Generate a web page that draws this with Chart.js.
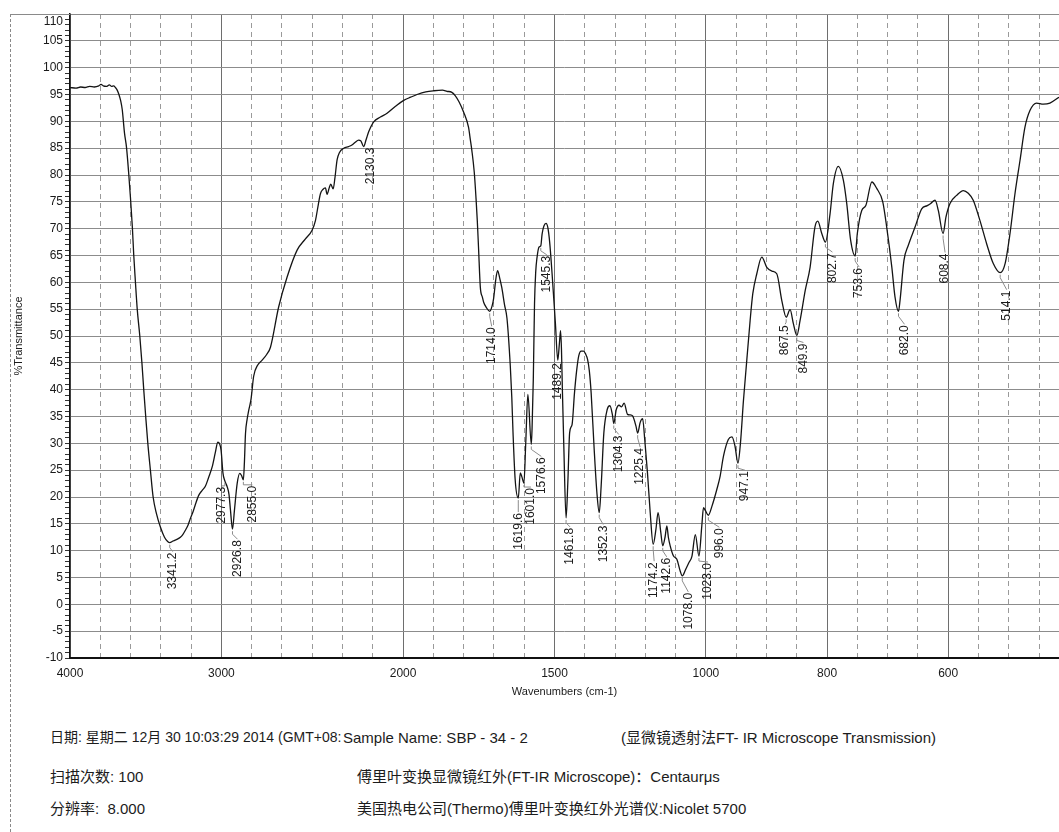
<!DOCTYPE html>
<html>
<head>
<meta charset="utf-8">
<title>FT-IR</title>
<script src="https://cdn.jsdelivr.net/npm/chart.js@4/dist/chart.umd.min.js"></script>
<style>
  html, body { margin: 0; padding: 0; background: #fff; }
  #page { position: relative; width: 1059px; height: 832px; overflow: hidden; background: #fff; }
  #spectrum { position: absolute; left: 0; top: 0; }
  .info { position: absolute; white-space: nowrap; line-height: 1;
          font-family: "Liberation Sans", Arial, "Noto Sans CJK SC", sans-serif;
          font-size: 15px; color: #1c1c1c; }
  .info.date { font-size: 14px; }
  #frameLeft { position: absolute; left: 10px; top: 14px; width: 0; height: 818px;
               border-left: 1px dashed #8a8a8a; }
</style>
</head>
<body>
<div id="page">
  <canvas id="spectrum" width="1059" height="720"></canvas>
  <div id="frameLeft"></div>
  <div class="info date" style="left:50px; top:730px;">日期: 星期二 12月 30 10:03:29 2014 (GMT+08:</div>
  <div class="info" style="left:343px; top:730px;">Sample Name: SBP - 34 - 2</div>
  <div class="info" style="left:621px; top:730px;">(显微镜透射法FT- IR Microscope Transmission)</div>
  <div class="info" style="left:50px; top:769px;">扫描次数: 100</div>
  <div class="info" style="left:357px; top:769px;">傅里叶变换显微镜红外(FT-IR Microscope)：Centaurμs</div>
  <div class="info" style="left:50px; top:801px;">分辨率:&nbsp; 8.000</div>
  <div class="info" style="left:357px; top:801px;">美国热电公司(Thermo)傅里叶变换红外光谱仪:Nicolet 5700</div>
</div>
<script>
// ---- spectrum (wavenumber in cm-1, %T) ----
const wavenumbers = [
  4000, 3960, 3930, 3900, 3870, 3840, 3810, 3795, 3780, 3760, 3740, 3725, 3712, 3700, 3690, 3678,
  3665, 3655, 3640, 3627, 3612, 3601, 3588, 3579, 3568, 3556, 3539, 3525, 3513, 3500, 3486, 3469,
  3451, 3429, 3403, 3376, 3355, 3341.2, 3320, 3295, 3271, 3255, 3238, 3220, 3205, 3188, 3172, 3150,
  3128, 3106, 3085, 3061, 3040, 3024, 3012, 3002, 2990, 2977.3, 2962, 2950, 2940, 2926.8, 2914, 2896,
  2879, 2867, 2855, 2848, 2841, 2830, 2820, 2804, 2787, 2760, 2731, 2700, 2676, 2622, 2566, 2500,
  2445, 2401, 2379, 2360, 2346, 2330, 2313, 2302, 2288, 2278, 2262, 2250, 2236, 2220, 2196, 2180,
  2169, 2158, 2147, 2140, 2130.3, 2122, 2114, 2097, 2075, 2053, 2025, 1998, 1975, 1954, 1925, 1899,
  1870, 1855, 1839, 1828, 1815, 1800, 1784, 1778, 1773, 1765, 1759, 1755, 1751, 1745, 1738, 1734,
  1725, 1714, 1706, 1701, 1694, 1688, 1681, 1674, 1665, 1657, 1646, 1641, 1637, 1630, 1619.6, 1613,
  1608, 1601, 1595, 1588, 1576.6, 1574, 1570, 1566, 1562, 1558, 1551, 1545.3, 1541, 1535, 1528, 1522,
  1516, 1508, 1497, 1489.2, 1484, 1480, 1477, 1474, 1469, 1461.8, 1456, 1450, 1442, 1434, 1427, 1420,
  1412, 1404, 1397, 1391, 1385, 1379, 1369, 1360, 1352.3, 1346, 1337, 1326, 1317, 1309, 1304.3, 1296,
  1287, 1279, 1270, 1259, 1250, 1242, 1231, 1225.4, 1217, 1209, 1202, 1193, 1184, 1174.2, 1165, 1158,
  1149, 1142.6, 1135, 1129, 1124, 1118, 1107, 1096, 1085, 1078, 1067, 1056, 1046, 1035, 1023, 1013.6,
  1008, 1002, 996, 990, 982, 976.5, 971, 963, 957, 952, 947.1, 943, 938, 932.5, 927, 922.6,
  916, 907.7, 899.5, 891, 883, 874.7, 867.5, 861, 855.6, 849.9, 844.5, 836, 828, 820, 815.3, 808.7,
  802.7, 795, 789.6, 781.3, 773, 767.5, 761, 753.6, 750, 742.7, 736, 726, 718, 708, 701.5, 693,
  687.8, 682, 679.5, 673, 665.8, 654.7, 643.7, 634.5, 628.8, 621.7, 616.3, 608.4, 603.6, 597, 586, 575,
  566.8, 558.6, 547.5, 536.5, 525.5, 514.1, 506, 497.9, 489.7, 481.4, 473.2, 465, 454, 443, 432, 417
];
const transmittance = [
  96.3, 96.2, 96.4, 96.3, 96.5, 96.4, 96.6, 96.9, 96.6, 96.5, 96.8, 96.5, 96.6, 96.3, 95.9, 95.1,
  93.8, 92.2, 87.8, 85.2, 80.2, 75.9, 70.2, 65.1, 60.1, 55.0, 50.0, 45.0, 40.0, 35.0, 30.0, 25.0,
  20.0, 16.9, 14.4, 12.5, 11.7, 11.5, 11.8, 12.1, 12.5, 13.0, 13.8, 14.8, 16.0, 17.2, 18.6, 20.3,
  21.2, 22.0, 23.6, 25.6, 28.3, 30.2, 29.9, 28.7, 24.5, 23.0, 21.9, 20.5, 17.5, 14.0, 17.5, 22.5,
  24.4, 24.0, 23.2, 26.5, 31.8, 34.5, 36.1, 38.3, 42.5, 44.6, 45.5, 46.6, 47.9, 55.4, 61.0, 66.0,
  68.1, 69.7, 71.5, 74.5, 76.5, 77.3, 77.6, 76.4, 77.6, 78.3, 77.4, 79.5, 82.8, 84.2, 85.0, 85.3,
  85.6, 86.1, 86.5, 86.4, 85.3, 86.6, 88.0, 89.9, 90.8, 91.5, 92.8, 93.9, 94.5, 95.0, 95.5, 95.7,
  95.8, 95.6, 95.4, 94.8, 93.6, 91.7, 88.9, 86.6, 84.6, 80.5, 75.5, 71.5, 66.6, 59.1, 57.2, 56.3,
  55.3, 54.6, 55.6, 57.0, 60.5, 62.2, 60.8, 59.0, 55.8, 53.3, 44.4, 38.5, 32.0, 23.3, 19.8, 24.5,
  23.8, 22.6, 30.0, 39.1, 29.8, 33.0, 42.0, 56.0, 62.0, 64.5, 66.6, 66.8, 69.0, 70.5, 71.0, 70.2,
  67.5, 61.6, 52.3, 45.5, 48.5, 51.0, 47.5, 40.0, 28.9, 16.1, 22.7, 32.0, 33.5, 39.4, 43.5, 46.3,
  47.2, 47.2, 46.6, 45.7, 43.5, 39.4, 28.9, 20.8, 17.1, 22.0, 32.0, 36.3, 37.0, 35.4, 33.7, 36.3,
  37.1, 36.8, 37.5, 35.4, 35.3, 35.1, 33.2, 31.9, 33.9, 34.6, 30.7, 24.5, 17.1, 11.2, 14.0, 17.1,
  13.4, 10.9, 12.5, 14.6, 12.5, 10.9, 9.0, 8.4, 6.2, 5.3, 6.5, 7.8, 9.0, 13.0, 9.0, 14.6,
  18.0, 17.5, 16.6, 18.3, 21.4, 23.9, 27.6, 30.7, 31.2, 29.5, 26.3, 30.0, 38.0, 45.5, 52.9, 57.9,
  61.6, 64.7, 62.8, 62.1, 61.6, 56.6, 53.5, 54.9, 52.3, 50.1, 52.9, 58.5, 62.8, 70.3, 71.4, 69.1,
  67.5, 72.8, 78.4, 81.6, 79.0, 74.7, 67.8, 64.9, 69.1, 73.4, 74.3, 78.7, 77.5, 75.0, 70.3, 62.8,
  57.3, 54.6, 56.6, 64.1, 66.9, 70.3, 73.7, 74.3, 74.7, 75.3, 73.4, 69.1, 72.2, 74.7, 76.2, 77.1,
  76.6, 75.3, 71.5, 67.2, 63.5, 61.8, 63.5, 69.1, 76.5, 82.7, 88.9, 92.0, 93.4, 93.2, 93.4, 94.5
];

// ---- picked peaks ----
const peakWavenumbers = [
  3341.2, 2977.3, 2926.8, 2855.0, 2130.3, 1714.0, 1619.6, 1601.0, 1576.6, 1545.3, 1489.2, 1461.8,
  1352.3, 1304.3, 1225.4, 1174.2, 1142.6, 1078.0, 1023.0, 996.0, 947.1, 867.5, 849.9, 802.7,
  753.6, 682.0, 608.4, 514.1
];
const peakLabels = [
  '3341.2', '2977.3', '2926.8', '2855.0', '2130.3', '1714.0', '1619.6', '1601.0', '1576.6', '1545.3',
  '1489.2', '1461.8', '1352.3', '1304.3', '1225.4', '1174.2', '1142.6', '1078.0', '1023.0', '996.0',
  '947.1', '867.5', '849.9', '802.7', '753.6', '682.0', '608.4', '514.1'
];

// ---- axis ticks ----
const xMajorTicks = [4000, 3000, 2000, 1500, 1000, 800, 600];
const xRange = [417, 4000];
const yRange = [-10, 110];

// label placement (px from the peak: right, down)
const peakLabelOffsets = [
  [3, 10], [-3, 6], [5, 11], [9, 6], [7, 1], [2, 16], [0, 15], [7, 5], [10, 13], [6, 10],
  [0, 3], [4, 10], [4, 13], [5, 12], [2.5, 15], [1, 18], [4, 12], [6, 17], [9, 7], [11, 13],
  [7, 8], [-1, 8], [6.6, 8], [7, 11], [4, 12], [6, 14], [2, 20], [6.5, 18]
];

// Instrument-style wavenumber axis: every grid cell has the same width on screen,
// but a cell spans 200 cm-1 above 2200, 100 cm-1 down to 1000 and 50 cm-1 below.
function cellOf(v) {
  if (v >= 2200) return (4000 - v) / 200;
  if (v >= 1000) return 9 + (2200 - v) / 100;
  return 21 + (1000 - v) / 50;
}
function valueOfCell(c) {
  if (c <= 9) return 4000 - 200 * c;
  if (c <= 21) return 2200 - 100 * (c - 9);
  return 1000 - 50 * (c - 21);
}
const LinearScale = Chart.LinearScale || Chart.registry.getScale('linear');
class WavenumberScale extends LinearScale {
  getPixelForValue(value) {
    const c0 = cellOf(this.max), c1 = cellOf(this.min);
    return this.getPixelForDecimal((cellOf(value) - c0) / (c1 - c0));
  }
  getValueForPixel(pixel) {
    const c0 = cellOf(this.max), c1 = cellOf(this.min);
    return valueOfCell(c0 + this.getDecimalForPixel(pixel) * (c1 - c0));
  }
}
WavenumberScale.id = 'wavenumber';
Chart.register(WavenumberScale);

// one grid line per cell
function cellTicks() {
  const out = [];
  for (let v = 4000; v >= 2200; v -= 200) out.push(v);
  for (let v = 2100; v >= 1000; v -= 100) out.push(v);
  for (let v = 950; v >= 450; v -= 50) out.push(v);
  return out;
}

const FONT = '"Liberation Sans", Arial, sans-serif';

const peakLabelPlugin = {
  id: 'peakLabels',
  afterDatasetsDraw(chart) {
    const ctx = chart.ctx, xs = chart.scales.x, ys = chart.scales.y;
    ctx.save();
    ctx.font = '12px ' + FONT;
    peakWavenumbers.forEach((wn, i) => {
      let best = 0;
      wavenumbers.forEach((w, j) => { if (Math.abs(w - wn) < Math.abs(wavenumbers[best] - wn)) best = j; });
      const px = xs.getPixelForValue(wn);
      const py = ys.getPixelForValue(transmittance[best]);
      const [dx, dy] = peakLabelOffsets[i];
      const lx = px + dx, ly = py + dy;
      if (dy > 3) {
        ctx.strokeStyle = '#8c8c8c';
        ctx.lineWidth = 1;
        ctx.beginPath();
        ctx.moveTo(px, py + 2);
        ctx.lineTo(px, py + Math.min(5, dy - 1));
        ctx.lineTo(lx, ly - 1);
        ctx.stroke();
      }
      ctx.save();
      ctx.translate(lx, ly);
      ctx.rotate(-Math.PI / 2);
      ctx.fillStyle = '#1a1a1a';
      ctx.textAlign = 'right';
      ctx.textBaseline = 'middle';
      ctx.fillText(peakLabels[i], 0, 0);
      ctx.restore();
    });
    ctx.restore();
  },
  afterDraw(chart) {
    const ctx = chart.ctx, a = chart.chartArea, ys = chart.scales.y;
    ctx.save();
    // outer frame continuing the top edge of the plot to the page border
    ctx.strokeStyle = '#8a8a8a';
    ctx.lineWidth = 1;
    ctx.beginPath();
    ctx.moveTo(10, Math.round(a.top) + 0.5);
    ctx.lineTo(a.left, Math.round(a.top) + 0.5);
    ctx.stroke();
    // the top value label sits just inside the frame
    ctx.font = '12px ' + FONT;
    ctx.fillStyle = '#1a1a1a';
    ctx.textAlign = 'right';
    ctx.textBaseline = 'middle';
    ctx.fillText(String(yRange[1]), ys.right - 7, a.top + 8);
    ctx.restore();
  }
};

new Chart(document.getElementById('spectrum'), {
  type: 'line',
  data: {
    datasets: [{
      data: wavenumbers.map((w, i) => ({ x: w, y: transmittance[i] })),
      borderColor: '#141414',
      borderWidth: 1.3,
      pointRadius: 0,
      fill: false,
      cubicInterpolationMode: 'monotone'
    }]
  },
  options: {
    responsive: false,
    animation: false,
    events: [],
    devicePixelRatio: 1,
    layout: { padding: { left: 10, right: 0, top: 14, bottom: 17 } },
    plugins: { legend: { display: false }, tooltip: { enabled: false } },
    scales: {
      x: {
        type: 'wavenumber',
        min: xRange[0],
        max: xRange[1],
        afterBuildTicks: (s) => { s.ticks = cellTicks().map(v => ({ value: v })); },
        afterFit: (s) => { s.height = 45; },
        ticks: {
          autoSkip: false, maxRotation: 0, padding: 8, color: '#1a1a1a',
          font: { family: FONT, size: 12 },
          callback: (v) => xMajorTicks.includes(v) ? String(v) : ''
        },
        grid: {
          drawTicks: false,
          lineWidth: 1,
          color: (c) => (c.tick && xMajorTicks.includes(c.tick.value)) ? '#6e6e6e' : '#9a9a9a'
        },
        border: {
          color: '#111', width: 2,
          dash: (c) => (c.tick && !xMajorTicks.includes(c.tick.value)) ? [5, 4] : []
        },
        title: {
          display: true, text: 'Wavenumbers (cm-1)', color: '#1a1a1a',
          font: { family: FONT, size: 11 }, padding: { top: 0, bottom: 4 }
        }
      },
      y: {
        type: 'linear',
        min: yRange[0],
        max: yRange[1],
        afterBuildTicks: (s) => {
          const t = [];
          for (let v = yRange[0]; v <= yRange[1]; v++) t.push({ value: v });
          s.ticks = t;
        },
        afterFit: (s) => { s.width = 60; },
        ticks: {
          autoSkip: false, padding: 2, color: '#1a1a1a',
          font: { family: FONT, size: 12 },
          callback: (v) => (v % 5 === 0 && v !== yRange[1]) ? String(v) : ''
        },
        grid: {
          lineWidth: 1, tickLength: 5, tickColor: '#333',
          color: (c) => (c.tick && c.tick.value % 5 === 0) ? '#8c8c8c' : 'rgba(0,0,0,0)'
        },
        border: { color: '#111', width: 1.5 },
        title: {
          display: true, text: '%Transmittance', color: '#1a1a1a',
          font: { family: FONT, size: 11 }, padding: { top: 2, bottom: 0 }
        }
      }
    }
  },
  plugins: [peakLabelPlugin]
});
</script>
</body>
</html>
